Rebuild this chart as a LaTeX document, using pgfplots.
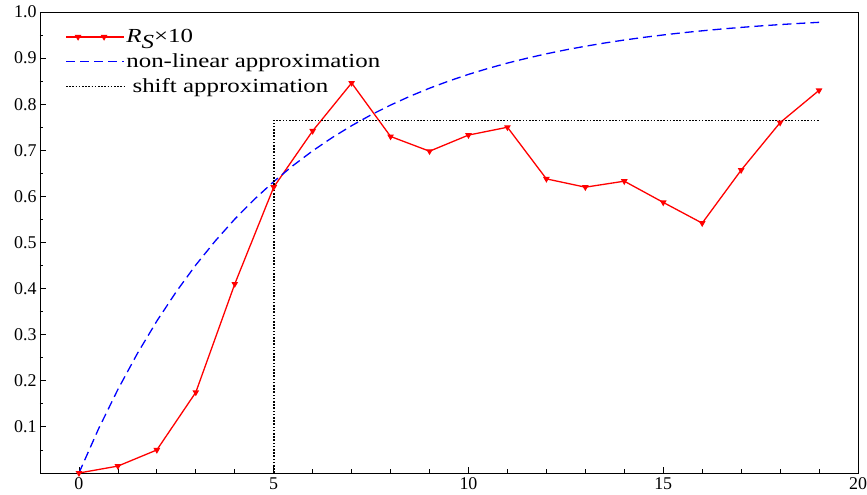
\documentclass[border=0pt]{standalone}
\usepackage{pgfplots}
\pgfplotsset{compat=1.18}
\usepackage{fontspec}
\usepackage{graphicx}
\setmainfont{Liberation Serif}
\usetikzlibrary{calc}

\begin{document}
\begin{tikzpicture}
\begin{axis}[
  scale only axis, width=818bp, height=461bp,
  xmin=-1, xmax=20, ymin=0, ymax=1,
  xtick={0,5,10,15,20}, minor x tick num=4,
  ytick={0.1,0.2,0.3,0.4,0.5,0.6,0.7,0.8,0.9,1.0}, minor y tick num=1,
  extra y ticks={0.05}, extra y tick labels={}, extra y tick style={major tick length=3bp},
  tick align=inside, xtick pos=bottom, ytick pos=left,
  major tick length=6bp, minor tick length=3.5bp,
  axis line style={line width=0.9bp},
  every tick/.style={black, line width=0.8bp},
  /pgf/number format/assume math mode=true,
  tick label style={font=\fontsize{18}{18}\selectfont},
  yticklabel style={/pgf/number format/.cd, fixed, fixed zerofill, precision=1},
  xticklabel style={yshift=-1bp},
  legend style={at={(0.027,0.97)}, anchor=north west, draw=none, fill=none,
    font=\fontsize{20}{20}\selectfont, row sep=6.5bp,
    nodes={inner sep=1.5bp}},
  legend cell align=left,
  legend image code/.code={\path (0bp,0bp) -- (58bp,0bp);
    \draw[mark repeat=2,mark phase=2,#1] plot coordinates {(0bp,0bp) (12bp,0bp) (25bp,0bp) (38bp,0bp) (50bp,0bp)};},
]
\addplot[red, line width=1.3bp, mark=triangle*, mark size=2.6bp, mark options={rotate=180, solid}]
  coordinates {(0,0.0) (1,0.015) (2,0.05) (3,0.175) (4,0.41) (5,0.62) (6,0.742)
  (7,0.846) (8,0.73) (9,0.698) (10,0.733) (11,0.75) (12,0.638) (13,0.62)
  (14,0.633) (15,0.587) (16,0.542) (17,0.657) (18,0.76) (19,0.83)};
\addlegendentry{\scalebox{1.25}[1]{\textit{R}\raisebox{-0.6ex}{\textit{S}}×10}}
\addplot[blue, line width=1.3bp, dash pattern=on 9bp off 5bp]
  coordinates {(0,0) (0.5,0.0952) (1,0.1813) (1.5,0.2592) (2,0.3297) (2.5,0.3935)
  (3,0.4512) (3.5,0.5034) (4,0.5507) (4.5,0.5934) (5,0.6321) (5.5,0.6671)
  (6,0.6988) (6.5,0.7275) (7,0.7534) (7.5,0.7769) (8,0.7981) (8.5,0.8173)
  (9,0.8347) (9.5,0.8504) (10,0.8647) (10.5,0.8775) (11,0.8892) (11.5,0.8997)
  (12,0.9093) (12.5,0.9179) (13,0.9257) (13.5,0.9328) (14,0.9392) (14.5,0.9450)
  (15,0.9502) (15.5,0.9550) (16,0.9592) (16.5,0.9631) (17,0.9666) (17.5,0.9698)
  (18,0.9727) (18.5,0.9753) (19,0.9776)};
\addlegendentry{\scalebox{1.25}[1]{non-linear approximation}}
\addplot[black, line width=1.6bp, dash pattern=on 1.6bp off 1.6bp]
  coordinates {(5,0) (5,0.765) (19,0.765)};
\addlegendentry{\scalebox{1.25}[1]{ shift approximation}}
\end{axis}
\pgfresetboundingbox
\path ($(current axis.south west)+(-40bp,-22bp)$) rectangle ($(current axis.north east)+(9bp,12bp)$);
\end{tikzpicture}
\end{document}
